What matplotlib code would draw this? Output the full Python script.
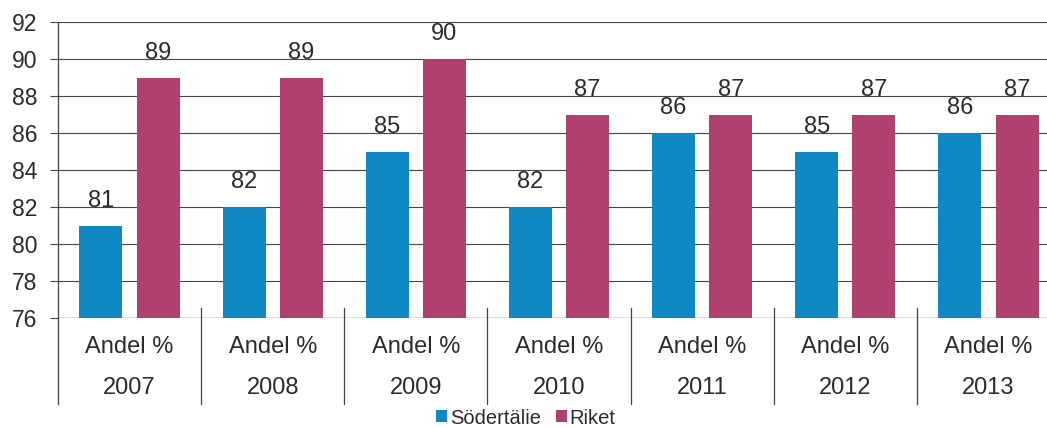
import numpy as np
import matplotlib
matplotlib.use("Agg")
import matplotlib.pyplot as plt
import matplotlib.transforms as mtransforms

plt.rcParams["font.family"] = ["Liberation Sans", "DejaVu Sans"]

years = ["2007", "2008", "2009", "2010", "2011", "2012", "2013"]
measure = "Andel %"
sodertalje = [81, 82, 85, 82, 86, 85, 86]
riket = [89, 89, 90, 87, 87, 87, 87]
series_names = ["Södertälie", "Riket"]
colors = ["#1088c4", "#b0416f"]
y_ticks = [76, 78, 80, 82, 84, 86, 88, 90, 92]

W, H = 1047, 428
fig = plt.figure(figsize=(W / 100, H / 100), dpi=100)
# plot area: x 58 -> ~1060 (cropped at the right edge), y 22 -> 318
ax = fig.add_axes([58 / W, 1 - 318 / H, (1060 - 58) / W, (318 - 22) / H])

x = np.arange(len(years))
bw = 0.30
off = 0.20
b1 = ax.bar(x - off, np.array(sodertalje) - 76, bw, bottom=76, color=colors[0], zorder=3, label=series_names[0])
b2 = ax.bar(x + off, np.array(riket) - 76, bw, bottom=76, color=colors[1], zorder=3, label=series_names[1])

for bars, vals in ((b1, sodertalje), (b2, riket)):
    for rect, v in zip(bars, vals):
        ax.annotate(str(v), xy=(rect.get_x() + rect.get_width() / 2, v),
                    xytext=(0, 10), textcoords="offset points",
                    ha="center", va="bottom", fontsize=17, color="#2b2b2b")

ax.set_xlim(-0.5, len(years) - 0.5)
ax.set_ylim(76, 92)
ax.set_yticks(y_ticks)
ax.tick_params(axis="y", length=6, width=0.8, color="#444444", pad=9,
               labelsize=16.5, labelcolor="#2b2b2b")
ax.set_xticks([])
ax.grid(axis="y", color="#444444", linewidth=0.8, zorder=0)
for s in ["top", "right", "bottom", "left"]:
    ax.spines[s].set_visible(False)
ax.axhline(76, color="#444444", linewidth=0.9, zorder=4)

# multi-level category axis
trans = mtransforms.blended_transform_factory(ax.transData, ax.transAxes)
ax.plot([-0.5, -0.5], [1.0, -0.29], transform=trans, color="#444444",
        linewidth=0.9, clip_on=False)
for sx in np.arange(0.5, len(years) - 0.5, 1.0):
    ax.plot([sx, sx], [0.034, -0.29], transform=trans, color="#444444",
            linewidth=0.9, clip_on=False)
for xi, yr in zip(x, years):
    ax.text(xi, -0.098, measure, transform=trans, ha="center", va="center",
            fontsize=17, color="#2b2b2b")
    ax.text(xi, -0.236, yr, transform=trans, ha="center", va="center",
            fontsize=17, color="#2b2b2b")

fig.legend(handles=[b1, b2], labels=series_names, loc="center",
           bbox_to_anchor=(526 / W, 1 - 418 / H), ncol=2, frameon=False,
           fontsize=14.5, handlelength=0.55, handleheight=0.55,
           handletextpad=0.15, columnspacing=0.7, labelcolor="#2b2b2b",
           borderpad=0.1)

fig.savefig("out.png", dpi=100)
